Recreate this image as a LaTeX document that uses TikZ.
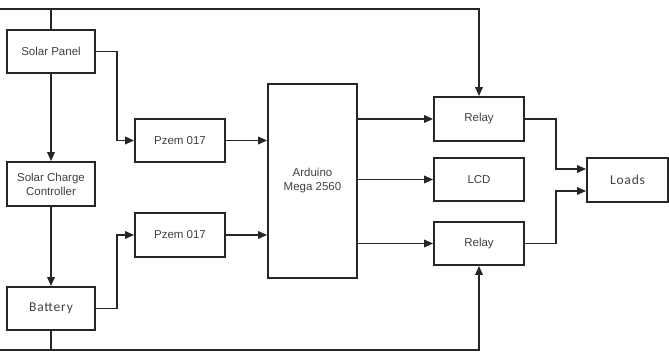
\documentclass[tikz,border=0pt]{standalone}
\usepackage{fontspec}
\setmainfont{Liberation Sans}
\newfontfamily\carl[LetterSpace=6]{Carlito}
\usetikzlibrary{arrows.meta}
\begin{document}
\begin{tikzpicture}[x=1pt,y=1pt,
  box/.style={draw=black!85,line width=1.8pt,inner sep=0pt,align=center,
    font=\fontsize{11.5}{14}\selectfont,text=black!75},
  conn/.style={draw=black!85,line width=1.8pt},
  arr/.style={conn,-{Triangle[length=9pt,width=7.5pt]}}]
\useasboundingbox (0,0) rectangle (669,352);
\node[box,minimum width=88,minimum height=43] (sp) at (51,300.5) {Solar Panel};
\node[box,minimum width=88,minimum height=44] (scc) at (51,168) {Solar Charge\\Controller};
\node[box,minimum width=88,minimum height=43,font=\carl\fontsize{13.5}{15}\selectfont] (bat) at (51,43.5) {Battery};
\node[box,minimum width=90,minimum height=43] (p1) at (180,211.5) {Pzem 017};
\node[box,minimum width=90,minimum height=44] (p2) at (180,117) {Pzem 017};
\node[box,minimum width=89,minimum height=194] (ard) at (312.5,171) {Arduino\\Mega 2560};
\node[box,minimum width=90,minimum height=44] (r1) at (479,233) {Relay};
\node[box,minimum width=90,minimum height=43] (lcd) at (479,172.5) {LCD};
\node[box,minimum width=90,minimum height=43] (r2) at (479,108.5) {Relay};
\node[box,minimum width=81,minimum height=44,font=\carl\fontsize{13.5}{15}\selectfont] (loads) at (627.5,172) {Loads};
\coordinate (top) at (0,343);
\coordinate (bot) at (0,2);
\draw[arr] (sp.north) |- (top) -| (r1.north);
\draw[arr] (bat.south) |- (bot) -| (r2.south);
\draw[arr] (sp.south) -- (scc.north);
\draw[arr] (scc.south) -- (bat.north);
\draw[arr] (sp.east) -- ++(21,0) |- (p1.west);
\draw[arr] (bat.east) -- ++(21,0) |- (p2.west);
\draw[arr] (p1.east) -- (ard.west |- p1.east);
\draw[arr] (p2.east) -- (ard.west |- p2.east);
\draw[arr] (ard.east |- r1.west) -- (r1.west);
\draw[arr] (ard.east |- lcd.west) -- (lcd.west);
\draw[arr] (ard.east |- r2.west) -- (r2.west);
\draw[arr] (r1.east) -- ++(31,0) |- ([yshift=11]loads.west);
\draw[arr] (r2.east) -- ++(31,0) |- ([yshift=-11]loads.west);
\end{tikzpicture}
\end{document}
